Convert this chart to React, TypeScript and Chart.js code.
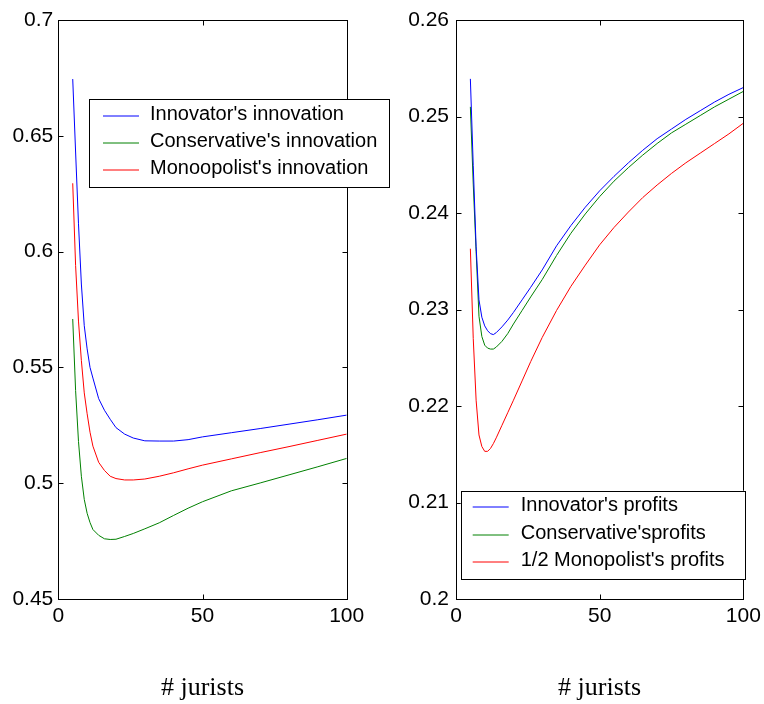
import React, { useEffect, useRef } from "react";
import { Chart, registerables } from "chart.js";

Chart.register(...registerables);

// ---------- data ----------
const leftX = [5, 6, 7, 8, 9, 10, 11, 12, 14, 16, 18, 20, 23, 26, 30, 35, 40, 45, 50, 60, 70, 80, 90, 100];
const innovatorInnovation = [0.6745, 0.643, 0.612, 0.586, 0.568, 0.558, 0.55, 0.5454, 0.5365, 0.5315, 0.5276, 0.524, 0.5212, 0.5195, 0.5183, 0.5182, 0.5182, 0.5188, 0.52, 0.5218, 0.5236, 0.5255, 0.5274, 0.5294];
const conservativeInnovation = [0.5709, 0.54, 0.518, 0.503, 0.493, 0.487, 0.483, 0.48, 0.4775, 0.476, 0.4757, 0.4758, 0.477, 0.4783, 0.4803, 0.4829, 0.4861, 0.4892, 0.492, 0.4967, 0.5001, 0.5036, 0.5071, 0.5107];
const monopolistInnovation = [0.6295, 0.594, 0.57, 0.553, 0.539, 0.53, 0.522, 0.516, 0.509, 0.5055, 0.503, 0.502, 0.5014, 0.5014, 0.5018, 0.503, 0.5045, 0.5062, 0.5078, 0.5105, 0.5132, 0.5158, 0.5185, 0.5212];

const rightX = [5, 6, 7, 8, 9, 10, 11, 12, 13, 14, 16, 18, 20, 23, 26, 30, 35, 40, 45, 50, 55, 60, 65, 70, 75, 80, 85, 90, 95, 100];
const innovatorProfits = [0.2539, 0.2449, 0.2365, 0.231, 0.2292, 0.2283, 0.2278, 0.2275, 0.2274, 0.2276, 0.2282, 0.2289, 0.2297, 0.231, 0.2323, 0.2341, 0.2366, 0.2387, 0.2406, 0.2423, 0.2438, 0.2452, 0.2465, 0.2477, 0.2487, 0.2497, 0.2506, 0.2515, 0.2523, 0.253];
const conservativeProfits = [0.251, 0.243, 0.236, 0.2293, 0.2272, 0.2263, 0.226, 0.2259, 0.2259, 0.2261, 0.2267, 0.2275, 0.2285, 0.2299, 0.2313, 0.2331, 0.2356, 0.2379, 0.2399, 0.2417, 0.2433, 0.2447, 0.246, 0.2472, 0.2483, 0.2492, 0.2501, 0.251, 0.2518, 0.2526];
const halfMonopolistProfits = [0.2363, 0.227, 0.2206, 0.217, 0.2158, 0.2153, 0.2153, 0.2156, 0.2161, 0.2167, 0.218, 0.2193, 0.2206, 0.2226, 0.2246, 0.2271, 0.2299, 0.2324, 0.2346, 0.2367, 0.2385, 0.2401, 0.2416, 0.2429, 0.2441, 0.2452, 0.2462, 0.2472, 0.2482, 0.2493];

const xTicks = [0, 50, 100];
const leftYTicks = [0.45, 0.5, 0.55, 0.6, 0.65, 0.7];
const rightYTicks = [0.2, 0.21, 0.22, 0.23, 0.24, 0.25, 0.26];
const leftLabels = ["Innovator's innovation", "Conservative's innovation", "Monoopolist's innovation"];
const rightLabels = ["Innovator's profits", "Conservative'sprofits", "1/2 Monopolist's profits"];
const xTitle = "# jurists";
const seriesColors = ["#0000ff", "#008000", "#ff0000"];

const SANS = "'Liberation Sans', Arial, Helvetica, sans-serif";
const SERIF = "'Liberation Serif', 'Times New Roman', serif";

const fmt = (v: number) => String(Number(Number(v).toFixed(4)));

// ---------- plugin: MATLAB-like frame with inward ticks + boxed legend ----------
const framePlugin = {
  id: "matlabFrame",
  afterDatasetsDraw(chart: any, _args: any, opts: any) {
    const { ctx, chartArea: a, scales } = chart;
    ctx.save();
    ctx.strokeStyle = "#000";
    ctx.lineWidth = 1;
    const L = Math.round(a.left) + 0.5;
    const R = Math.round(a.right) + 0.5;
    const T = Math.round(a.top) + 0.5;
    const B = Math.round(a.bottom) + 0.5;
    ctx.strokeRect(L, T, R - L, B - T);
    const len = 5;
    ctx.beginPath();
    scales.x.ticks.forEach((t: any) => {
      const px = Math.round(scales.x.getPixelForValue(t.value)) + 0.5;
      ctx.moveTo(px, B);
      ctx.lineTo(px, B - len);
      ctx.moveTo(px, T);
      ctx.lineTo(px, T + len);
    });
    scales.y.ticks.forEach((t: any) => {
      const py = Math.round(scales.y.getPixelForValue(t.value)) + 0.5;
      ctx.moveTo(L, py);
      ctx.lineTo(L + len, py);
      ctx.moveTo(R, py);
      ctx.lineTo(R - len, py);
    });
    ctx.stroke();

    const lg = opts && opts.legend;
    if (lg) {
      const bx = a.left + lg.dx;
      const by = a.top + lg.dy;
      ctx.fillStyle = "#fff";
      ctx.fillRect(bx, by, lg.w, lg.h);
      ctx.strokeStyle = "#000";
      ctx.lineWidth = 1;
      ctx.strokeRect(Math.round(bx) + 0.5, Math.round(by) + 0.5, Math.round(lg.w), Math.round(lg.h));
      ctx.font = `${lg.fontSize}px ${SANS}`;
      ctx.textAlign = "left";
      ctx.textBaseline = "alphabetic";
      chart.data.datasets.forEach((ds: any, i: number) => {
        const base = by + lg.firstBase + i * lg.rowGap;
        const ly = Math.round(base - 4);
        ctx.strokeStyle = ds.borderColor;
        ctx.lineWidth = 1;
        ctx.beginPath();
        ctx.moveTo(bx + lg.lineX, ly);
        ctx.lineTo(bx + lg.lineX + lg.lineLen, ly);
        ctx.stroke();
        ctx.fillStyle = "#000";
        ctx.fillText(ds.label, bx + lg.textX, base);
      });
    }
    ctx.restore();
  },
};

function makeConfig(
  xs: number[],
  series: number[][],
  labels: string[],
  yTicks: number[],
  yMin: number,
  yMax: number,
  yWidth: number,
  yPad: number,
  padRight: number,
  legend: any
): any {
  return {
    type: "line",
    data: {
      datasets: series.map((vals, i) => ({
        label: labels[i],
        data: xs.map((x, j) => ({ x, y: vals[j] })),
        borderColor: seriesColors[i],
        backgroundColor: seriesColors[i],
        borderWidth: 1,
        pointRadius: 0,
        tension: 0,
        fill: false,
      })),
    },
    options: {
      responsive: false,
      animation: false,
      devicePixelRatio: 1,
      layout: { padding: { left: 0, top: 20, right: padRight, bottom: 0 } },
      plugins: {
        legend: { display: false },
        tooltip: { enabled: false },
        matlabFrame: { legend },
      },
      scales: {
        x: {
          type: "linear",
          min: 0,
          max: 100,
          grid: { display: false, drawTicks: false },
          border: { display: false },
          afterBuildTicks: (s: any) => {
            s.ticks = xTicks.map((v) => ({ value: v }));
          },
          afterFit: (s: any) => {
            s.height = 105;
            s.paddingLeft = 0;
            s.paddingRight = 0;
          },
          ticks: {
            color: "#000",
            font: { family: SANS, size: 21 },
            padding: 5,
            maxRotation: 0,
            callback: (v: any) => fmt(v),
          },
          title: {
            display: true,
            text: xTitle,
            color: "#000",
            font: { family: SERIF, size: 26 },
            padding: { top: 0, bottom: 0.5 },
          },
        },
        y: {
          type: "linear",
          min: yMin,
          max: yMax,
          grid: { display: false, drawTicks: false },
          border: { display: false },
          afterBuildTicks: (s: any) => {
            s.ticks = yTicks.map((v) => ({ value: v }));
          },
          afterFit: (s: any) => {
            s.width = yWidth;
            s.paddingTop = 0;
            s.paddingBottom = 0;
          },
          ticks: {
            color: "#000",
            font: { family: SANS, size: 21 },
            padding: yPad,
            callback: (v: any) => fmt(v),
          },
        },
      },
    },
    plugins: [framePlugin],
  };
}

export default function App() {
  const leftRef = useRef<HTMLCanvasElement>(null);
  const rightRef = useRef<HTMLCanvasElement>(null);

  useEffect(() => {
    const c1 = new Chart(
      leftRef.current as HTMLCanvasElement,
      makeConfig(
        leftX,
        [innovatorInnovation, conservativeInnovation, monopolistInnovation],
        leftLabels,
        leftYTicks,
        0.45,
        0.7,
        58.3,
        5,
        53.3,
        { dx: 31, dy: 79.3, w: 300, h: 88.4, fontSize: 20, firstBase: 20.7, rowGap: 27, lineX: 13.7, lineLen: 36, textX: 60.7 }
      )
    );
    const c2 = new Chart(
      rightRef.current as HTMLCanvasElement,
      makeConfig(
        rightX,
        [innovatorProfits, conservativeProfits, halfMonopolistProfits],
        rightLabels,
        rightYTicks,
        0.2,
        0.26,
        74,
        7,
        20.7,
        { dx: 4.7, dy: 470.7, w: 284.3, h: 88.3, fontSize: 20, firstBase: 20.3, rowGap: 27.5, lineX: 12, lineLen: 36, textX: 60 }
      )
    );
    return () => {
      c1.destroy();
      c2.destroy();
    };
  }, []);

  return (
    <div style={{ position: "absolute", left: 0, top: 0, width: 764, height: 704, background: "#fff", overflow: "hidden" }}>
      <canvas ref={leftRef} width={400} height={704} style={{ position: "absolute", left: 0, top: 0, width: 400, height: 704 }} />
      <canvas ref={rightRef} width={382} height={704} style={{ position: "absolute", left: 382, top: 0, width: 382, height: 704 }} />
    </div>
  );
}
